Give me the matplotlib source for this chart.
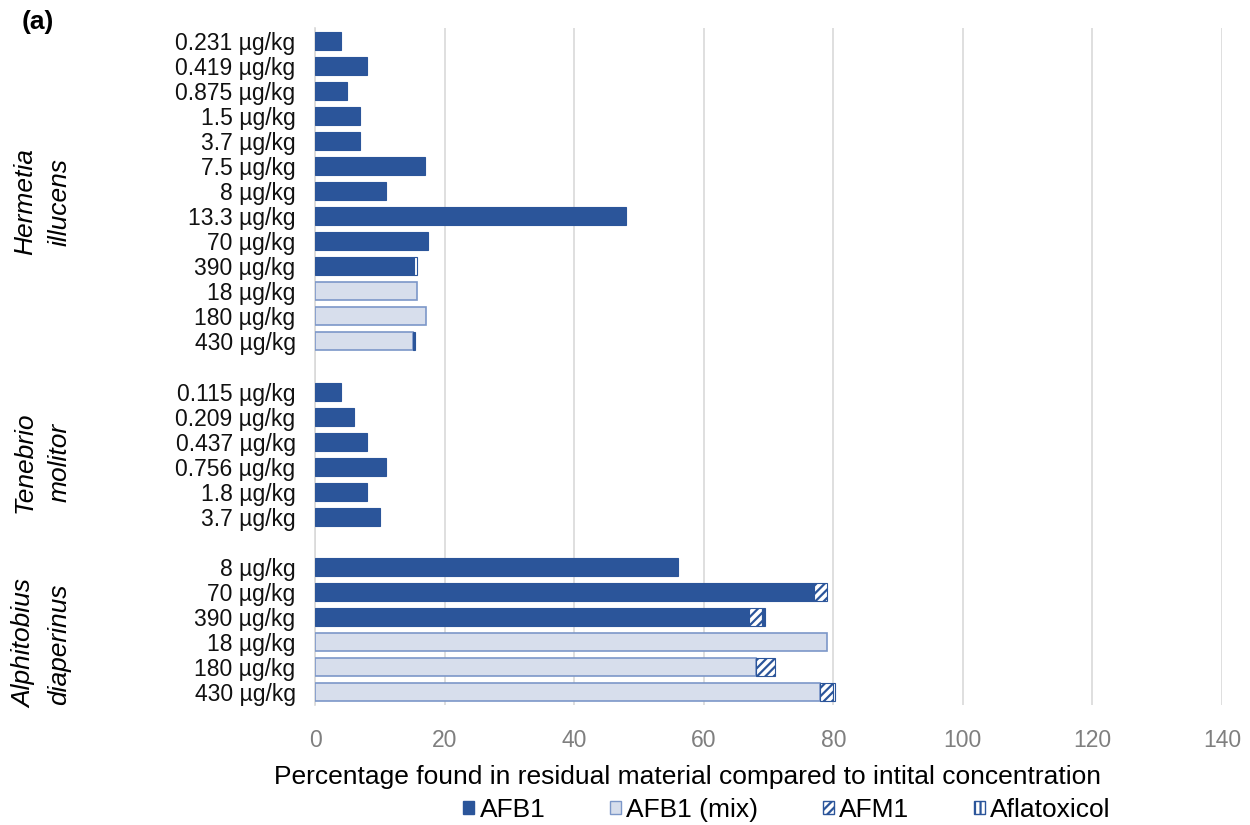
import matplotlib
matplotlib.use("Agg")
import matplotlib.pyplot as plt
from matplotlib.patches import Patch
import numpy as np

plt.rcParams['font.family'] = ['Liberation Sans', 'DejaVu Sans']
plt.rcParams['hatch.linewidth'] = 1.6

# Rows from top to bottom; empty labels are spacer rows between species
labels = [
    "0.231 µg/kg", "0.419 µg/kg", "0.875 µg/kg", "1.5 µg/kg", "3.7 µg/kg",
    "7.5 µg/kg", "8 µg/kg", "13.3 µg/kg", "70 µg/kg", "390 µg/kg",
    "18 µg/kg", "180 µg/kg", "430 µg/kg",
    "",
    "0.115 µg/kg", "0.209 µg/kg", "0.437 µg/kg", "0.756 µg/kg", "1.8 µg/kg", "3.7 µg/kg",
    "",
    "8 µg/kg", "70 µg/kg", "390 µg/kg", "18 µg/kg", "180 µg/kg", "430 µg/kg",
]
afb1 = [4, 8, 5, 7, 7, 17, 11, 48, 17.5, 15.3, 0, 0, 0,
        0,
        4, 6, 8, 11, 8, 10,
        0,
        56, 77, 67, 0, 0, 0]
afb1_mix = [0, 0, 0, 0, 0, 0, 0, 0, 0, 0, 15.8, 17.2, 15.2,
            0,
            0, 0, 0, 0, 0, 0,
            0,
            0, 0, 0, 79, 68, 78]
afm1 = [0, 0, 0, 0, 0, 0, 0, 0, 0, 0, 0, 0, 0,
        0,
        0, 0, 0, 0, 0, 0,
        0,
        0, 2, 2, 0, 3, 2]
aflatoxicol = [0, 0, 0, 0, 0, 0, 0, 0, 0, 0.5, 0, 0, 0.3,
               0,
               0, 0, 0, 0, 0, 0,
               0,
               0, 0, 0.4, 0, 0, 0.3]

species = [("Hermetia\nillucens", 202), ("Tenebrio\nmolitor", 462), ("Alphitobius\ndiaperinus", 644)]

dark = "#2B559A"
light_face = "#D7DEEC"
light_edge = "#7C97C8"

W, H = 1250, 825
fig = plt.figure(figsize=(W / 100, H / 100), dpi=100)
ax = fig.add_axes([315 / W, 1 - 705 / H, (1222 - 315) / W, (705 - 28) / H])

y = np.arange(len(labels))
h = 0.72
a1 = np.array(afb1, float)
am = np.array(afb1_mix, float)
m1 = np.array(afm1, float)
tx = np.array(aflatoxicol, float)


def segment(values, left, **kw):
    mask = values > 0
    ax.barh(y[mask], values[mask], left=left[mask], height=h, zorder=3, **kw)


zero = np.zeros_like(a1)
segment(a1, zero, color=dark, edgecolor=dark, linewidth=0.8)
segment(am, a1, color=light_face, edgecolor=light_edge, linewidth=1.2)
segment(m1, a1 + am, color="white", edgecolor=dark, hatch="////", linewidth=0.8)
segment(tx, a1 + am + m1, color="white", edgecolor=dark, hatch="|||", linewidth=0.8)

ax.set_xlim(0, 140)
ax.set_ylim(len(labels) - 0.5, -0.5)
ax.set_xticks(np.arange(0, 141, 20))
ax.set_yticks(y)
ax.set_yticklabels(labels, fontsize=16.5, color="#111111")
ax.tick_params(axis="x", labelsize=16.5, colors="#7F7F7F", length=0, pad=17)
ax.tick_params(axis="y", length=0, pad=14)
ax.grid(axis="x", color="#D9D9D9", linewidth=1.2, zorder=0)
for s in ["top", "right", "bottom"]:
    ax.spines[s].set_visible(False)
ax.spines["left"].set_color("#D9D9D9")
ax.spines["left"].set_linewidth(1.2)
ax.spines["left"].set_zorder(2)

for name, ypix in species:
    fig.text(42 / W, 1 - ypix / H, name, rotation=90, style="italic", fontsize=19,
             ha="center", va="center", linespacing=1.55)

fig.text(22 / W, 1 - 22 / H, "(a)", fontsize=19, fontweight="bold", ha="left", va="center")
fig.text(687 / W, 1 - 777 / H, "Percentage found in residual material compared to intital concentration",
         fontsize=19, ha="center", va="center")

handles = [
    Patch(facecolor=dark, edgecolor=dark, label="AFB1"),
    Patch(facecolor=light_face, edgecolor=light_edge, label="AFB1 (mix)"),
    Patch(facecolor="white", edgecolor=dark, hatch="////", label="AFM1"),
    Patch(facecolor="white", edgecolor=dark, hatch="|||", label="Aflatoxicol"),
]
fig.legend(handles=handles, loc="center", bbox_to_anchor=(787 / W, 1 - 810 / H), ncol=4,
           frameon=False, fontsize=19, handlelength=0.42, handleheight=0.42,
           handletextpad=0.2, columnspacing=2.45)

fig.savefig("out.png", dpi=100)
